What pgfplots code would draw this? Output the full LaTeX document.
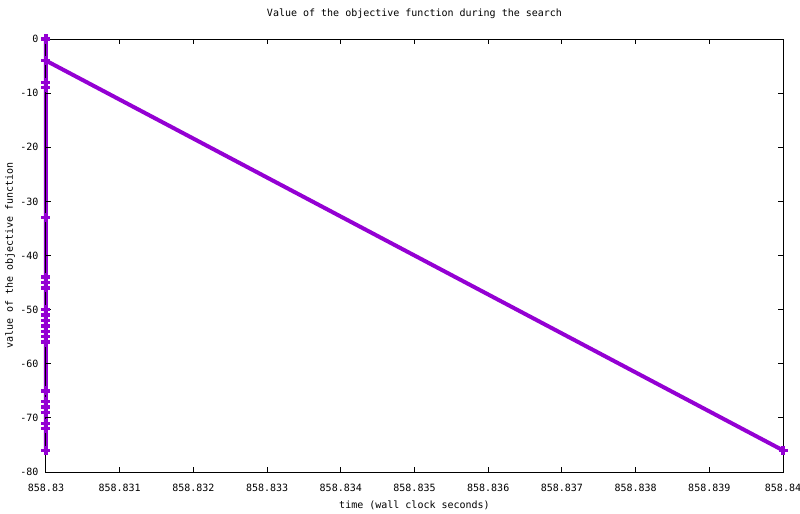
\documentclass[border=0pt]{standalone}
\usepackage{pgfplots}
\pgfplotsset{compat=1.18}
\usepackage{fontspec}
\setmainfont{DejaVu Sans Mono}
\definecolor{gpviolet}{HTML}{9400D3}

\begin{document}
\begin{tikzpicture}
% x is given in ms after 858.83 s (the labels carry the real times)
\path[use as bounding box] (-46bp,-42bp) rectangle (754bp,472bp);
\begin{axis}[
    at={(0,0)}, anchor=south west,
    scale only axis, width=737bp, height=433bp,
    xmin=0, xmax=10, ymin=-80, ymax=0,
    xtick={0,1,...,10},
    xticklabels={858.83,858.831,858.832,858.833,858.834,858.835,858.836,858.837,858.838,858.839,858.84},
    ytick={-80,-70,...,0},
    yticklabels={-80,-70,-60,-50,-40,-30,-20,-10,0},
    tick align=inside, major tick length=5bp,
    tick style={black, line width=1bp},
    axis line style={line width=1bp},
    font=\fontsize{10bp}{12bp}\selectfont,
    xticklabel style={yshift=-9bp},
    yticklabel style={xshift=-4bp},
    title={Value of the objective function during the search},
    title style={at={(0.5,1)}, anchor=south, yshift=11bp},
    xlabel={time (wall clock seconds)},
    ylabel={value of the objective function},
    xlabel style={at={(0.5,0)}, anchor=center, yshift=-33bp},
    ylabel style={at={(0,0.5)}, anchor=center, yshift=36bp},
    axis on top,
    clip=false,
]
\addplot[gpviolet, line width=4bp, mark=+, mark size=4.5bp,
    mark options={line width=3.5bp, solid}] coordinates {
    (0,0) (0,-8) (0,-9) (0,-33) (0,-44) (0,-45) (0,-46)
    (0,-50) (0,-51) (0,-52) (0,-53) (0,-54) (0,-55) (0,-56)
    (0,-65) (0,-67) (0,-68) (0,-69) (0,-71) (0,-72) (0,-76)
    (0,-4) (10,-76)
};
\end{axis}
\end{tikzpicture}
\end{document}
